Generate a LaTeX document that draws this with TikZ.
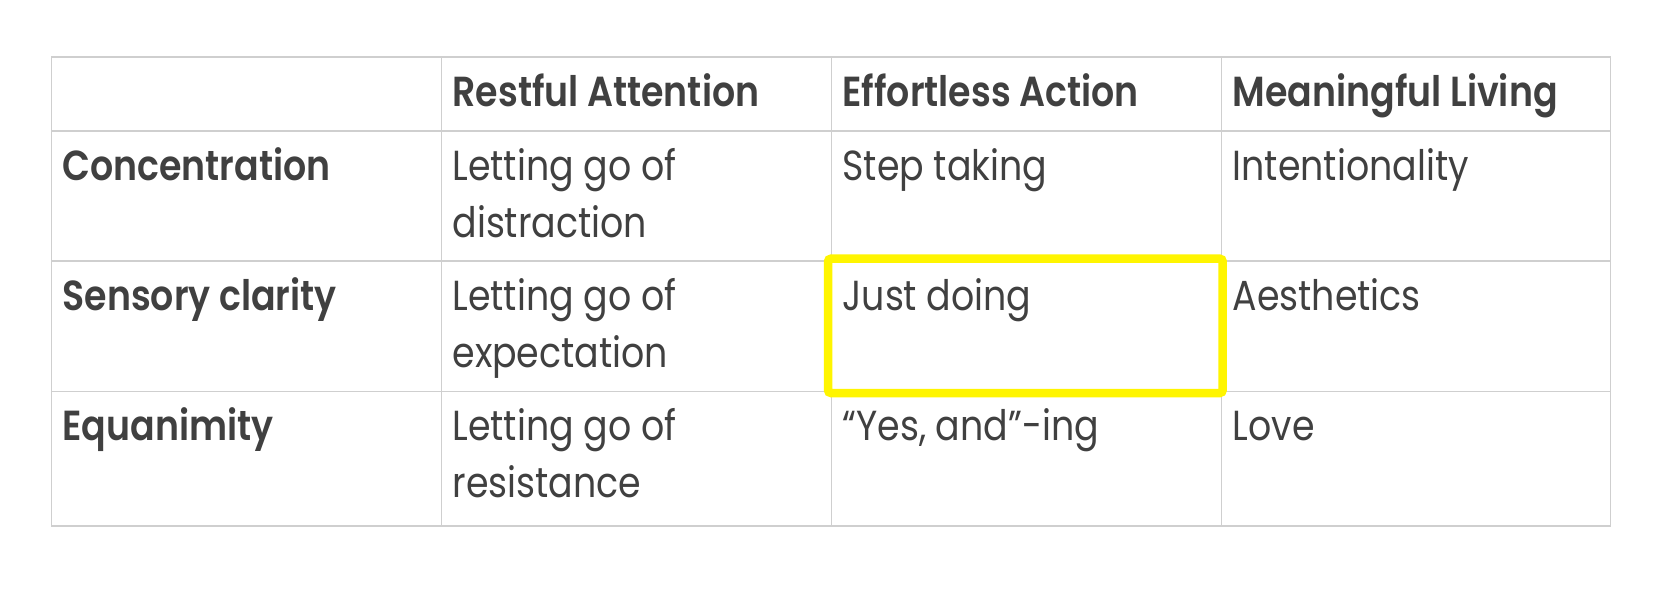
\documentclass[tikz,border=0pt]{standalone}
\usepackage{fontspec}
\setmainfont{Poppins}[BoldFont={Poppins SemiBold}, FakeStretch=0.865]
\definecolor{txt}{HTML}{404040}
\definecolor{gridc}{HTML}{CFCFCF}
\definecolor{hl}{RGB}{255,245,0}
\tikzset{
  cell/.style={anchor=base west, inner sep=0pt, outer sep=0pt, text=txt, font=\fontsize{42}{57}\selectfont},
  head/.style={cell, font=\fontsize{42}{57}\selectfont\bfseries},
  gridline/.style={draw=gridc, line width=1.3pt},
  highlight/.style={draw=hl, line width=8.5pt, rounded corners=3pt}
}
\begin{document}
\begin{tikzpicture}[x=1pt,y=-1pt]
\useasboundingbox[fill=white] (0,0) rectangle (1663,589);
% grid
\draw[gridline] (51.3,57) rectangle (1610.3,526);
\foreach \yy in {131,261,391.3} \draw[gridline] (51.3,\yy) -- (1610.3,\yy);
\foreach \xx in {441.5,831.5,1221.7} \draw[gridline] (\xx,57) -- (\xx,526);
% header
\node[head] (h1) at (452.5,106) {Restful Attention};
\node[head] (h2) at (842.5,106) {Effortless Action};
\node[head] (h3) at (1232.7,106) {Meaningful Living};
% row labels
\node[head] (r1) at (62.5,180) {Concentration};
\node[head] (r2) at (62.5,310) {Sensory clarity};
\node[head] (r3) at (62.5,440) {Equanimity};
% row 1
\node[cell] (c11a) at (452.5,180) {Letting go of};
\node[cell] (c11b) at (452.5,237) {distraction};
\node[cell] (c12) at (842.5,180) {Step taking};
\node[cell] (c13) at (1232.7,180) {Intentionality};
% row 2
\node[cell] (c21a) at (452.5,310) {Letting go of};
\node[cell] (c21b) at (452.5,367) {expectation};
\node[cell] (c22) at (842.5,310) {Just doing};
\node[cell] (c23) at (1232.7,310) {Aesthetics};
% row 3
\node[cell] (c31a) at (452.5,440) {Letting go of};
\node[cell] (c31b) at (452.5,497) {resistance};
\node[cell] (c32) at (842.5,440) {“Yes, and”-ing};
\node[cell] (c33) at (1232.7,440) {Love};
% highlight
\draw[highlight] (828,258.7) rectangle (1222.7,393);
\end{tikzpicture}
\end{document}
